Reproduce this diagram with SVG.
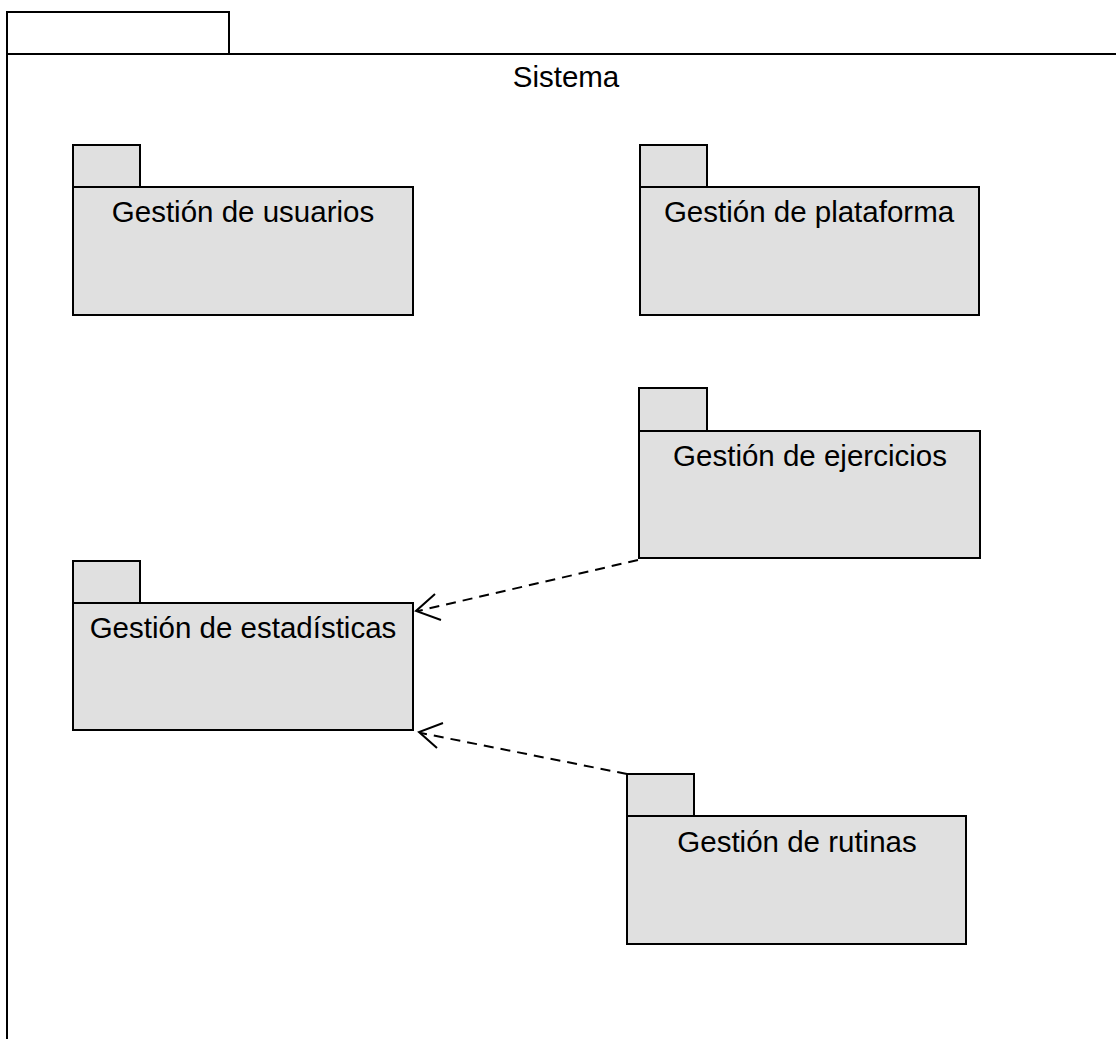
<svg xmlns="http://www.w3.org/2000/svg" width="1116" height="1039" viewBox="0 0 1116 1039">
<style>
.pkg{fill:#e0e0e0;stroke:#000;stroke-width:2}
.lbl{font-family:"Liberation Sans",Arial,sans-serif;font-size:29.5px;text-anchor:middle;fill:#000}
.dep{stroke:#000;stroke-width:2;stroke-dasharray:10,7;fill:none}
.head{stroke:#000;stroke-width:2;fill:none}
</style>
<rect width="1116" height="1039" fill="#fff"/>
<g id="sistema">
<rect x="7" y="12" width="222" height="42" fill="#fff" stroke="#000" stroke-width="2"/>
<path d="M7 1040 V54 H1117" fill="none" stroke="#000" stroke-width="2"/>
<text x="566" y="87" class="lbl">Sistema</text>
</g>
<g id="usuarios">
<rect class="pkg" x="73" y="145" width="67" height="42"/>
<rect class="pkg" x="73" y="187" width="340" height="128"/>
<text class="lbl" x="243" y="222">Gestión de usuarios</text>
</g>
<g id="plataforma">
<rect class="pkg" x="640" y="145" width="67" height="42"/>
<rect class="pkg" x="640" y="187" width="339" height="128"/>
<text class="lbl" x="809" y="222">Gestión de plataforma</text>
</g>
<g id="ejercicios">
<rect class="pkg" x="639" y="388" width="68" height="43"/>
<rect class="pkg" x="639" y="431" width="341" height="127"/>
<text class="lbl" x="810" y="466">Gestión de ejercicios</text>
</g>
<g id="estadisticas">
<rect class="pkg" x="73" y="561" width="67" height="42"/>
<rect class="pkg" x="73" y="603" width="340" height="127"/>
<text class="lbl" x="243" y="638">Gestión de estadísticas</text>
</g>
<g id="rutinas">
<rect class="pkg" x="627" y="774" width="67" height="42"/>
<rect class="pkg" x="627" y="816" width="339" height="128"/>
<text class="lbl" x="797" y="852">Gestión de rutinas</text>
</g>
<g id="connectors">
<line class="dep" x1="638" y1="560" x2="418" y2="611"/>
<path class="head" d="M435 594 L416 611 L441 620"/>
<line class="dep" x1="627" y1="774" x2="421" y2="733"/>
<path class="head" d="M443 723 L419 732 L437 748"/>
</g>
</svg>
